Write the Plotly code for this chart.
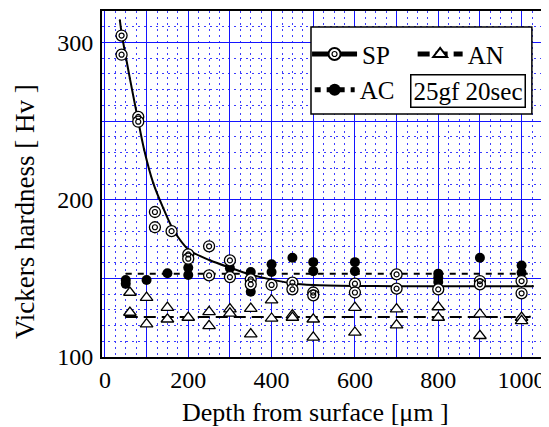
import plotly.graph_objects as go

# ---- data ----
sp_x = [40, 40, 80, 80, 120, 120, 160, 200, 200, 250, 250, 300, 300, 350, 350, 400,
        450, 450, 500, 500, 600, 600, 700, 700, 800, 900, 900, 1000, 1000]
sp_y = [304.4, 292.2, 252.7, 249.6, 192.2, 182.5, 180, 165.2, 162.5, 170.4, 151.9, 161.4,
        150.8, 149.4, 146.2, 145.8, 147.3, 143, 141, 139.2, 146.6, 141, 152.5, 143.5,
        143, 148.3, 146.2, 148.3, 140.5]

ac_x = [50, 50, 100, 150, 200, 200, 300, 350, 350, 400, 400, 450, 500, 500, 600, 600,
        800, 800, 800, 900, 1000, 1000]
ac_y = [149, 146.5, 149, 153.2, 156.8, 152.1, 156.5, 154, 141.5, 159, 154, 163.1, 160.3,
        154.6, 160.3, 154.6, 153, 150.4, 147.7, 163.1, 158.2, 153.6]

an_x = [60, 60, 100, 100, 150, 150, 200, 250, 250, 300, 300, 350, 350, 400, 400, 450,
        450, 500, 500, 600, 600, 700, 700, 800, 800, 900, 900, 1000, 1000]
an_y = [141, 128.3, 137.8, 120.9, 131.4, 124, 125.1, 128.7, 119.8, 130.4, 127.8, 130.8,
        114.6, 136.1, 124.5, 126.6, 125.1, 124, 112.5, 131.4, 115.6, 130.4, 120.3, 131.8,
        125.1, 127.2, 113.5, 125.1, 123]

# fitted SP curve
fit_x = [36, 40, 60, 80, 94, 116, 140, 164, 200, 252, 300, 348, 400, 450, 500, 600, 700,
         800, 900, 1027]
fit_y = [314, 306, 277, 250, 232, 210.6, 194.7, 181, 168.4, 161.5, 156.8, 152.5, 149.2,
         146.8, 145.8, 145.2, 145, 145, 145, 145]

# mean levels
ac_mean_x = [50, 1020]
ac_mean_y = [153, 153]
an_mean_x = [50, 1020]
an_mean_y = [125.5, 125.5]

x_tickvals = [0, 100, 200, 300, 400, 500, 600, 700, 800, 900, 1000]
x_ticktext = ["0", "", "200", "", "400", "", "600", "", "800", "", "1000"]
y_tickvals = [100, 150, 200, 250, 300]
y_ticktext = ["100", "", "200", "", "300"]

FONT = "Liberation Serif"
BLUE = "rgb(20,20,255)"
BLUE_MINOR = "rgb(60,60,255)"

fig = go.Figure()

# SP fitted curve (carries the legend entry)
fig.add_trace(go.Scatter(
    x=fit_x, y=fit_y, mode="lines+markers", name="SP", legend="legend",
    line=dict(color="black", width=2, shape="spline", smoothing=0.8),
    marker=dict(symbol="circle", size=1, color="white",
                line=dict(color="black", width=1.3)),
))
# AN mean line
fig.add_trace(go.Scatter(
    x=an_mean_x, y=an_mean_y, mode="lines+markers", name="AN", legend="legend2",
    line=dict(color="black", width=2, dash="12px,6px"),
    marker=dict(symbol="triangle-up", size=1, color="white",
                line=dict(color="black", width=1.3)),
))
# AC mean line
fig.add_trace(go.Scatter(
    x=ac_mean_x, y=ac_mean_y, mode="lines+markers", name="AC", legend="legend3",
    line=dict(color="black", width=2, dash="6px,6px"),
    marker=dict(symbol="circle", size=1, color="black"),
))

# data points
fig.add_trace(go.Scatter(
    x=an_x, y=an_y, mode="markers", showlegend=False,
    marker=dict(symbol="triangle-up", size=11, color="white",
                line=dict(color="black", width=1.3)),
))
fig.add_trace(go.Scatter(
    x=ac_x, y=ac_y, mode="markers", showlegend=False,
    marker=dict(symbol="circle", size=10, color="black"),
))
fig.add_trace(go.Scatter(
    x=sp_x, y=sp_y, mode="markers", showlegend=False,
    marker=dict(symbol="circle", size=11, color="white",
                line=dict(color="black", width=1.3)),
))
# inner ring of the SP double-circle marker (its legend entry overlays the SP one)
fig.add_trace(go.Scatter(
    x=sp_x, y=sp_y, mode="markers", name="", legend="legend4",
    marker=dict(symbol="circle-open", size=5, color="black",
                line=dict(color="black", width=1.2)),
))

leg_common = dict(orientation="h", xanchor="left", yanchor="middle",
                  bgcolor="rgba(0,0,0,0)", borderwidth=0,
                  font=dict(family=FONT, size=25, color="black"))

fig.update_layout(
    width=549, height=427,
    margin=dict(l=94, r=15, t=3, b=78),
    paper_bgcolor="white", plot_bgcolor="white",
    font=dict(family=FONT, size=24, color="black"),
    legend=dict(x=0.466, y=0.875, itemsizing="constant", itemwidth=45, **leg_common),
    legend2=dict(x=0.706, y=0.875, itemsizing="constant", itemwidth=45, **leg_common),
    legend3=dict(x=0.472, y=0.772, itemsizing="constant", itemwidth=40, **leg_common),
    legend4=dict(x=0.466, y=0.875, itemsizing="trace", itemwidth=45, **leg_common),
    xaxis=dict(
        range=[-7, 1049], tickmode="array", tickvals=x_tickvals, ticktext=x_ticktext,
        showgrid=True, gridcolor=BLUE, gridwidth=1, zeroline=False, automargin=False,
        showline=True, linecolor="black", linewidth=2, mirror=True, ticks="",
        tickfont=dict(family=FONT, size=24), ticklabeloverflow="allow",
        minor=dict(dtick=25, tick0=0, showgrid=True, gridcolor=BLUE_MINOR, gridwidth=1,
                   griddash="2px,4px"),
    ),
    yaxis=dict(
        range=[100, 320], tickmode="array", tickvals=y_tickvals, ticktext=y_ticktext,
        showgrid=True, gridcolor=BLUE, gridwidth=1, zeroline=False, automargin=False,
        showline=True, linecolor="black", linewidth=2, mirror=True, ticks="",
        tickfont=dict(family=FONT, size=24), ticklabelstandoff=2,
        minor=dict(dtick=10, tick0=0, showgrid=True, gridcolor=BLUE_MINOR, gridwidth=1,
                   griddash="2px,4px"),
    ),
    shapes=[
        dict(type="rect", xref="paper", yref="paper", x0=0.475, x1=0.977, y0=0.702, y1=0.954,
             line=dict(color="black", width=1.5), fillcolor="white", layer="above"),
    ],
    annotations=[
        dict(text="25gf 20sec", xref="paper", yref="paper", x=0.832, y=0.768,
             xanchor="center", yanchor="middle", showarrow=False,
             font=dict(family=FONT, size=25, color="black"),
             bordercolor="black", borderwidth=1.5, borderpad=2, bgcolor="white"),
        dict(text="Depth from surface [μm ]", xref="paper", yref="paper", x=0.486, y=-0.159,
             xanchor="center", yanchor="middle", showarrow=False,
             font=dict(family=FONT, size=26, color="black")),
        dict(text="Vickers hardness [ Hv ]", xref="paper", yref="paper", x=-0.175, y=0.419,
             xanchor="center", yanchor="middle", showarrow=False, textangle=-90,
             font=dict(family=FONT, size=27, color="black")),
    ],
)

fig.write_html("out.html")
